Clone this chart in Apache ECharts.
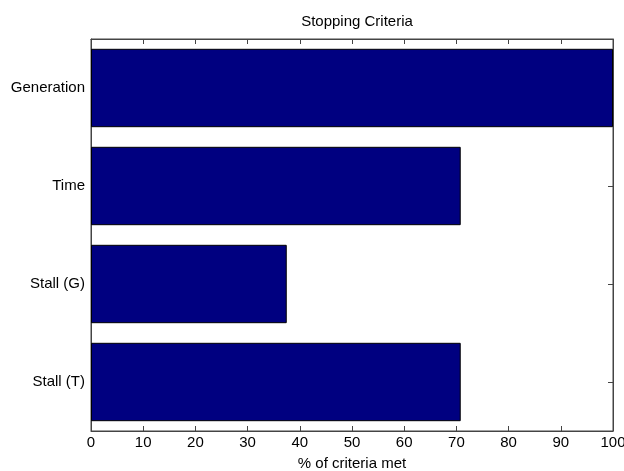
<!DOCTYPE html>
<html>
<head>
<meta charset="utf-8">
<script src="https://cdn.jsdelivr.net/npm/echarts@6/dist/echarts.min.js"></script>
<style>html,body{margin:0;padding:0;background:#fff}#c{width:624px;height:471px}</style>
</head>
<body>
<div id="c"></div>
<script>
const categories = ['Generation', 'Time', 'Stall (G)', 'Stall (T)'];
const percentMet = [100, 70.83, 37.5, 70.83];
const xTicks = [0, 10, 20, 30, 40, 50, 60, 70, 80, 90, 100];

const font = 'Liberation Sans, Arial, sans-serif';
const fs = 15;
const chart = echarts.init(document.getElementById('c'));
chart.setOption({
  animation: false,
  backgroundColor: '#fff',
  title: {
    text: 'Stopping Criteria', left: 352, top: 9, textAlign: 'center',
    textStyle: { fontFamily: font, fontSize: fs, fontWeight: 'normal', color: '#000' }
  },
  grid: { left: 91, right: 11, top: 39, bottom: 40, outerBoundsMode: 'none', containLabel: false,
          show: true, borderColor: '#444', borderWidth: 1, backgroundColor: '#fff' },
  xAxis: [{
    type: 'value', min: xTicks[0], max: xTicks[xTicks.length - 1], interval: 10,
    name: '% of criteria met', nameLocation: 'middle', nameGap: 25,
    nameTextStyle: { fontFamily: font, fontSize: fs, color: '#000' },
    axisLine: { show: true, lineStyle: { color: '#444' } },
    axisTick: { show: true, inside: true, length: 5, lineStyle: { color: '#444' } },
    axisLabel: { fontFamily: font, fontSize: fs, color: '#000', margin: 4, hideOverlap: false },
    splitLine: { show: false }
  }, {
    type: 'value', position: 'top', min: 0, max: 100, interval: 10,
    axisLine: { show: true, onZero: false, lineStyle: { color: '#444' } },
    axisTick: { show: true, inside: true, length: 5, lineStyle: { color: '#444' } },
    axisLabel: { show: false }, splitLine: { show: false }
  }],
  yAxis: [{
    type: 'category', data: categories, inverse: true, position: 'left',
    axisLine: { show: true, onZero: false, lineStyle: { color: '#444' } },
    axisTick: { show: false },
    axisLabel: { fontFamily: font, fontSize: fs, color: '#000', margin: 6 }
  }, {
    type: 'category', data: categories, inverse: true, position: 'right',
    axisLine: { show: true, onZero: false, lineStyle: { color: '#444' } },
    axisTick: { show: true, inside: true, length: 5, alignWithLabel: true, lineStyle: { color: '#444' } },
    axisLabel: { show: false }
  }],
  series: [{
    type: 'bar', data: percentMet, xAxisIndex: 0, yAxisIndex: 0,
    barWidth: '80%',
    itemStyle: { color: '#000080', borderColor: '#000', borderWidth: 1 }
  }]
});
</script>
</body>
</html>
